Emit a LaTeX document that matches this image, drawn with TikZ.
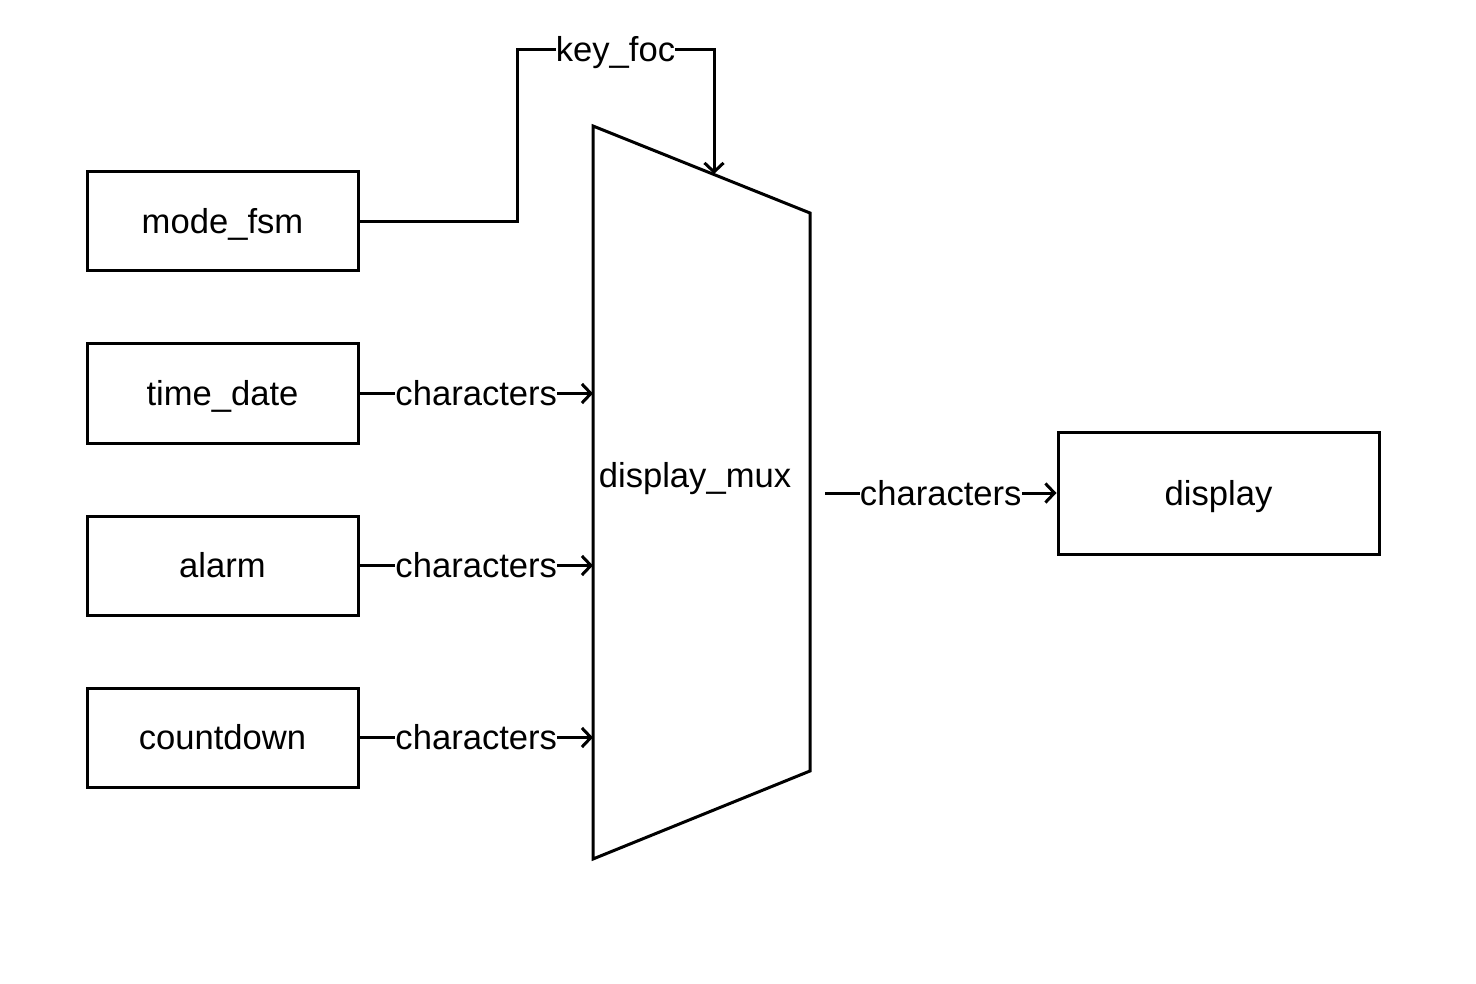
\documentclass[tikz,border=0pt]{standalone}
\usepackage{fontspec}
\setmainfont{Liberation Sans}
\usetikzlibrary{arrows.meta}
\begin{document}
\begin{tikzpicture}[x=1pt,y=-1pt,
  line width=3pt,
  every node/.style={font=\fontsize{34.6}{40}\selectfont,text height=31.3pt,text depth=7.3pt},
  block/.style={draw,minimum width=271pt,minimum height=99pt,inner sep=0pt},
  lbl/.style={fill=white,inner xsep=0pt,inner ysep=0pt},
  arr/.style={-{Straight Barb[length=9pt,width=19pt,line width=3pt]}}]
\useasboundingbox (0,0) rectangle (1476,984);
% blocks
\node[block] (mode) at (222.5,221.5) {mode\_fsm};
\node[block] (time) at (222.5,393.5) {time\_date};
\node[block] (alarm) at (222.5,565.5) {alarm};
\node[block] (count) at (222.5,737.5) {countdown};
\node[block,minimum width=321pt,minimum height=122pt] (display) at (1218.5,493) {display};
% mux
\coordinate (mlt) at (593,126);
\coordinate (mrt) at (810,213);
\coordinate (mrb) at (810,771);
\coordinate (mlb) at (593,859);
\draw[line join=miter] (mlt) -- (mrt) -- (mrb) -- (mlb) -- cycle;
\node (mux) at (695,475) {display\_mux};
\coordinate (keyin) at (714,174);
\coordinate (muxout) at (825,493);
% connectors
\draw[arr] (mode.east) -- (517,221.5) -- (517,50) -- node[lbl] {key\_foc} (714,50) -- (keyin);
\draw[arr] (time.east) -- node[lbl] {characters} (time.east -| mlt);
\draw[arr] (alarm.east) -- node[lbl] {characters} (alarm.east -| mlt);
\draw[arr] (count.east) -- node[lbl] {characters} (count.east -| mlt);
\draw[arr] (muxout) -- node[lbl] {characters} (display.west);
\end{tikzpicture}
\end{document}
